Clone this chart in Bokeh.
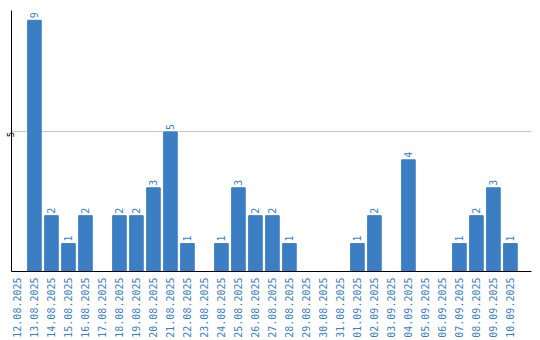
import math
from bokeh.plotting import figure
from bokeh.models import Range1d, FixedTicker, ColumnDataSource
from bokeh.core.properties import value
from bokeh.embed import file_html
from bokeh.resources import INLINE

dates = ["12.08.2025", "13.08.2025", "14.08.2025", "15.08.2025", "16.08.2025",
         "17.08.2025", "18.08.2025", "19.08.2025", "20.08.2025", "21.08.2025",
         "22.08.2025", "23.08.2025", "24.08.2025", "25.08.2025", "26.08.2025",
         "27.08.2025", "28.08.2025", "29.08.2025", "30.08.2025", "31.08.2025",
         "01.09.2025", "02.09.2025", "03.09.2025", "04.09.2025", "05.09.2025",
         "06.09.2025", "07.09.2025", "08.09.2025", "09.09.2025", "10.09.2025"]
counts = [0, 9, 2, 1, 2, 0, 2, 2, 3, 5, 1, 0, 1, 3, 2, 2, 1, 0, 0, 0,
          1, 2, 0, 4, 0, 0, 1, 2, 3, 1]
y_ticks = [5]

BLUE = "#3b7ec3"
FONT = value("DejaVu Sans Mono")

xs = [i + 0.5 for i in range(len(dates))]
src = ColumnDataSource(dict(x=xs, top=counts,
                            lbl=[str(c) if c > 0 else "" for c in counts]))

p = figure(width=540, height=340, output_backend="svg", toolbar_location=None,
           x_range=Range1d(0.15, 30.74), y_range=Range1d(0, 9.35),
           min_border_left=0, min_border_right=9, min_border_top=10,
           min_border_bottom=0)
p.outline_line_color = None
p.background_fill_color = "white"

p.vbar(x="x", top="top", width=0.8, source=src, color=BLUE)
p.text(x="x", y="top", text="lbl", source=src, angle=math.pi / 2,
       text_align="left", text_baseline="middle", x_offset=0, y_offset=-2,
       text_font=FONT, text_font_size="10px", text_color=BLUE)

p.xgrid.visible = False
p.ygrid.ticker = FixedTicker(ticks=y_ticks)
p.ygrid.grid_line_color = "#c8c8c8"

xa = p.xaxis[0]
xa.ticker = FixedTicker(ticks=xs)
xa.major_label_overrides = {x: d for x, d in zip(xs, dates)}
xa.major_label_orientation = math.pi / 2
xa.major_label_text_font = "DejaVu Sans Mono"
xa.major_label_text_font_size = "10px"
xa.major_label_text_color = BLUE
xa.major_tick_line_color = None
xa.minor_tick_line_color = None
xa.major_tick_out = 0
xa.minor_tick_out = 0
xa.major_label_standoff = 6
xa.axis_line_color = "black"

ya = p.yaxis[0]
ya.ticker = FixedTicker(ticks=y_ticks)
ya.major_label_orientation = math.pi / 2
ya.major_label_text_font = "DejaVu Sans Mono"
ya.major_label_text_font_size = "9px"
ya.major_label_text_color = "black"
ya.major_tick_line_color = None
ya.minor_tick_line_color = None
ya.major_tick_out = 0
ya.minor_tick_out = 0
ya.major_label_standoff = 1
ya.axis_line_color = "black"

open("out.html", "w").write(file_html(p, INLINE))
